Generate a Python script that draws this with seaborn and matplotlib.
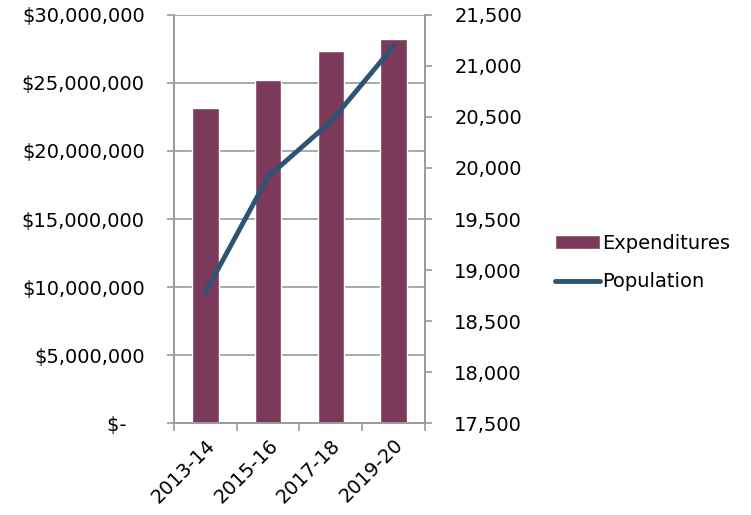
import matplotlib
matplotlib.use("Agg")
import matplotlib.pyplot as plt
import seaborn as sns
import pandas as pd
import numpy as np
from matplotlib.ticker import FuncFormatter, FixedLocator

# данные с картинки
years = ["2013-14", "2015-16", "2017-18", "2019-20"]
expenditures = [23150000, 25250000, 27350000, 28200000]
population = [18780, 19915, 20455, 21195]

sns.set_style("white")
plt.rcParams['font.family'] = ['DejaVu Sans']
plt.rcParams['font.size'] = 14
plt.rcParams['text.color'] = 'black'
plt.rcParams['xtick.labelcolor'] = 'black'
plt.rcParams['ytick.labelcolor'] = 'black'

bar_color = "#7B3A5A"
line_color = "#2E5475"
grid_color = "#9A9A9A"

df = pd.DataFrame({"year": years, "exp": expenditures, "pop": population})

fig = plt.figure(figsize=(7.51, 5.15), dpi=100)
ax = fig.add_axes([0.2317, 0.1786, 0.3342, 0.7923])

sns.barplot(data=df, x="year", y="exp", color=bar_color, width=0.42,
            saturation=1, ax=ax, label="Expenditures", zorder=2)
ax.set_xlim(-0.5, len(years) - 0.5)
ax.set_ylim(0, 30000000)
ax.set_yticks(np.arange(0, 30000001, 5000000))


def money(v, pos):
    if v == 0:
        return "$-   "
    return "${:,.0f}".format(v)


ax.yaxis.set_major_formatter(FuncFormatter(money))
ax.yaxis.grid(True, color=grid_color, linewidth=1.2, zorder=0)
ax.set_axisbelow(True)
ax.set_xlabel("")
ax.set_ylabel("")

# тики по границам категорий, подписи по центрам
ax.xaxis.set_major_locator(FixedLocator(np.arange(-0.5, len(years), 1.0)))
ax.xaxis.set_major_formatter(FuncFormatter(lambda v, p: ""))
ax.xaxis.set_minor_locator(FixedLocator(np.arange(len(years))))
ax.set_xticklabels(years, minor=True, rotation=45, ha="right",
                   rotation_mode="anchor")
ax.tick_params(axis="x", which="major", length=6, width=1.2, color=grid_color,
               direction="out", bottom=True)
ax.tick_params(axis="x", which="minor", length=0, pad=9, labelsize=14,
               labelcolor="black")
ax.tick_params(axis="y", length=5, width=1.2, color=grid_color,
               direction="out", left=True, pad=16, labelcolor="black")

ax2 = ax.twinx()
sns.lineplot(x=np.arange(len(years)), y=df["pop"], color=line_color,
             linewidth=3.5, ax=ax2, label="Population")
ax2.set_ylim(17500, 21500)
ax2.set_yticks(np.arange(17500, 21501, 500))
ax2.yaxis.set_major_formatter(FuncFormatter(lambda v, p: "{:,.0f}".format(v)))
ax2.tick_params(axis="y", length=5, width=1.2, color=grid_color,
                direction="out", right=True, pad=16, labelcolor="black")
ax2.set_ylabel("")
ax2.set_xlim(-0.5, len(years) - 0.5)

for a in (ax, ax2):
    for s in ("left", "right", "bottom"):
        a.spines[s].set_color(grid_color)
        a.spines[s].set_linewidth(1.2)
    a.spines["top"].set_visible(False)

h1, l1 = ax.get_legend_handles_labels()
h2, l2 = ax2.get_legend_handles_labels()
if ax.get_legend():
    ax.get_legend().remove()
if ax2.get_legend():
    ax2.get_legend().remove()
fig.legend(h1 + h2, l1 + l2, loc="center left", bbox_to_anchor=(0.716, 0.49),
           frameon=False, fontsize=14, handlelength=2.3, handletextpad=0.1,
           labelspacing=1.0, labelcolor="black")

fig.savefig("out.png", dpi=100)
